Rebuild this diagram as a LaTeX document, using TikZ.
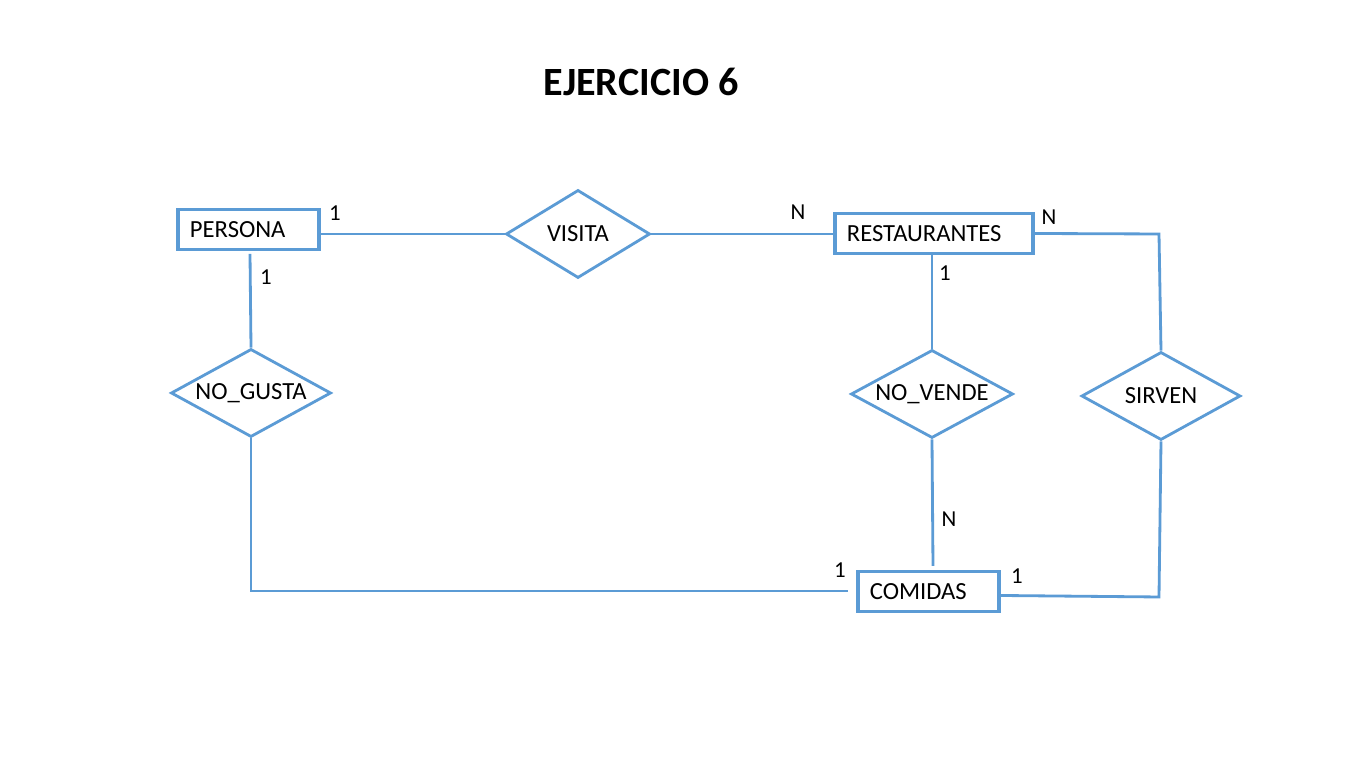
\documentclass[tikz,border=0pt]{standalone}
\usepackage{fontspec}
\setmainfont{Carlito}
\usetikzlibrary{shapes.geometric}
\definecolor{eblue}{HTML}{5B9BD5}
\begin{document}
\begin{tikzpicture}[x=0.01cm,y=-0.01cm,
  lnk/.style={draw=eblue, line width=0.8pt},
  ent/.style={draw=eblue, line width=1.05pt, rectangle, minimum height=0.40cm, inner xsep=0.12cm, inner ysep=0pt, align=left, font=\fontsize{7pt}{8pt}\selectfont},
  rel/.style={draw=eblue, line width=0.8pt, diamond, inner sep=0pt, minimum height=0.88cm, font=\fontsize{7pt}{8pt}\selectfont},
  card/.style={font=\fontsize{6.5pt}{7pt}\selectfont, inner sep=0pt}]
\useasboundingbox (0,0) rectangle (1366,768);
\fill[white] (0,0) rectangle (1366,768);

\node[font=\fontsize{11.4pt}{13pt}\selectfont\bfseries] (title) at (641,82) {EJERCICIO 6};

\node[ent, text width=1.17cm] (persona) at (248.5,229.5) {PERSONA};
\node[ent, text width=1.74cm] (rest) at (934,233.5) {RESTAURANTES};
\node[ent, text width=1.17cm] (comidas) at (928.5,591.5) {COMIDAS};

\node[rel, minimum width=1.44cm, aspect=1.64] (visita) at (578,234) {VISITA};
\node[rel, minimum width=1.60cm, aspect=1.82] (ngusta) at (251,393) {NO\_GUSTA};
\node[rel, minimum width=1.62cm, aspect=1.84] (nvende) at (932,394) {NO\_VENDE};
\node[rel, minimum width=1.59cm, aspect=1.81] (sirven) at (1161,396) {SIRVEN};

\coordinate (rc) at (1159,234);
\coordinate (pg) at (250,254);
\coordinate (cg) at (848,591);
\coordinate (vc) at (933,566);
\coordinate (sc) at (1159,597);

\draw[lnk] (persona.east |- visita.west) -- (visita.west);
\draw[lnk] (visita.east) -- (rest.west |- visita.east);
\draw[lnk] (rest.east) -- (rc) -- (sirven.north);
\draw[lnk] (pg) -- (ngusta.north);
\draw[lnk] (ngusta.south) |- (cg);
\draw[lnk] (nvende.north |- rest.south) -- (nvende.north);
\draw[lnk] (nvende.south) -- (vc);
\draw[lnk] (sirven.south) -- (sc) -- ([yshift=-0.04cm]comidas.east);

\node[card] (c1) at (335,213) {1};
\node[card] (c2) at (266,277) {1};
\node[card] (c3) at (798,212) {N};
\node[card] (c4) at (1049,217) {N};
\node[card] (c5) at (945,273) {1};
\node[card] (c6) at (949,519) {N};
\node[card] (c7) at (840,570) {1};
\node[card] (c8) at (1017,576) {1};
\end{tikzpicture}
\end{document}
